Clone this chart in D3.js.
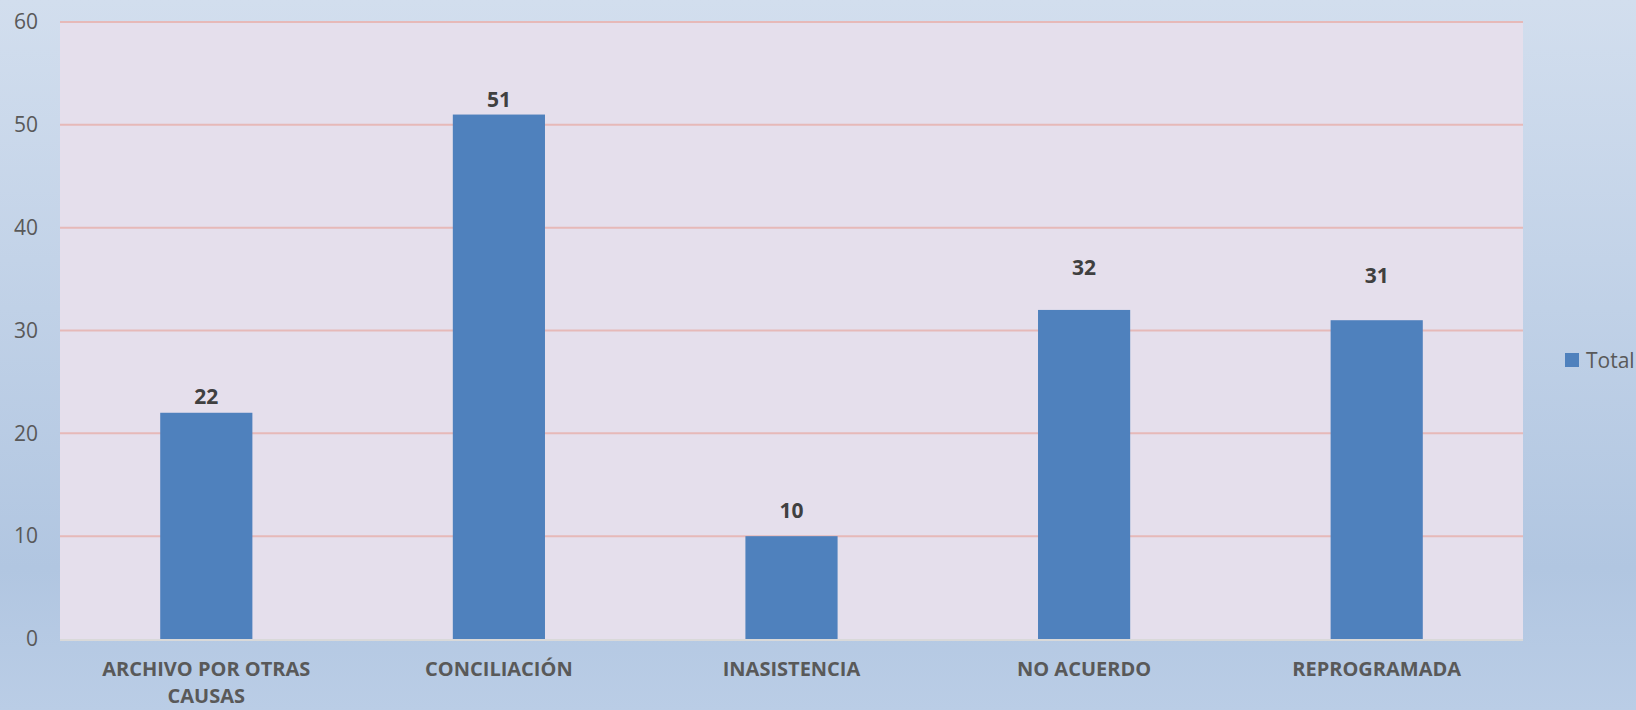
<!DOCTYPE html>
<html>
<head>
<meta charset="utf-8">
<script src="https://cdn.jsdelivr.net/npm/d3@7"></script>
<style>
  html, body { margin: 0; padding: 0; }
  body { width: 1636px; height: 710px; overflow: hidden; }
  text { font-family: "Open Sans", "DejaVu Sans", sans-serif; }
</style>
</head>
<body>
<div id="chart"></div>
<script>
// categories and values
var categories = ["ARCHIVO POR OTRAS CAUSAS", "CONCILIACIÓN", "INASISTENCIA", "NO ACUERDO", "REPROGRAMADA"];
var totals = [22, 51, 10, 32, 31];
// data labels were moved by hand in the original, so keep where they sit (in data units)
var labelAt = [22.85, 51.7, 11.8, 35.4, 34.6];
var yTicks = [0, 10, 20, 30, 40, 50, 60];
var seriesName = "Total";

var width = 1636, height = 710;
var margin = { left: 60, right: 113, top: 22, bottom: 71 };

var svg = d3.select("#chart").append("svg")
    .attr("width", width)
    .attr("height", height);

// background gradient
var grad = svg.append("defs").append("linearGradient")
    .attr("id", "bg")
    .attr("x1", 0).attr("y1", 0).attr("x2", 0).attr("y2", 1);
grad.append("stop").attr("offset", "0%").attr("stop-color", "#d2deee");
grad.append("stop").attr("offset", "80%").attr("stop-color", "#b1c6e1");
grad.append("stop").attr("offset", "100%").attr("stop-color", "#bacde6");

svg.append("rect")
    .attr("width", width).attr("height", height)
    .attr("fill", "url(#bg)");

var x = d3.scaleBand()
    .domain(categories)
    .range([margin.left, width - margin.right])
    .paddingInner(0.685)
    .paddingOuter(0.3425);

var y = d3.scaleLinear()
    .domain([0, 60])
    .range([height - margin.bottom, margin.top]);

// plot area
svg.append("rect")
    .attr("x", margin.left)
    .attr("y", margin.top)
    .attr("width", width - margin.left - margin.right)
    .attr("height", height - margin.top - margin.bottom)
    .attr("fill", "#e5dfec");

// gridlines
svg.append("g").selectAll("line")
    .data(yTicks.filter(function(d){ return d > 0; }))
    .enter().append("line")
    .attr("x1", margin.left)
    .attr("x2", width - margin.right)
    .attr("y1", function(d){ return y(d); })
    .attr("y2", function(d){ return y(d); })
    .style("stroke", "#e6b9b8")
    .style("stroke-width", 2);

// y axis labels
var yAxis = svg.append("g")
    .attr("transform", "translate(" + (margin.left - 22) + ",0)")
    .call(d3.axisLeft(y).tickValues(yTicks).tickSize(0).tickPadding(0));
yAxis.select(".domain").remove();
yAxis.selectAll("text")
    .style("font-size", "21px")
    .style("fill", "#595959");

// bars
svg.append("g").selectAll("rect")
    .data(totals)
    .enter().append("rect")
    .attr("x", function(d, i){ return x(categories[i]); })
    .attr("y", function(d){ return y(d); })
    .attr("width", x.bandwidth())
    .attr("height", function(d){ return y(0) - y(d); })
    .attr("fill", "#4f81bd");

// baseline
svg.append("line")
    .attr("x1", margin.left)
    .attr("x2", width - margin.right)
    .attr("y1", y(0) + 1)
    .attr("y2", y(0) + 1)
    .style("stroke", "#d9d9d9")
    .style("stroke-width", 2);

// data labels
svg.append("g").selectAll("text")
    .data(totals)
    .enter().append("text")
    .attr("x", function(d, i){ return x(categories[i]) + x.bandwidth() / 2; })
    .attr("y", function(d, i){ return y(labelAt[i]); })
    .attr("text-anchor", "middle")
    .style("font-size", "21px")
    .style("font-weight", "bold")
    .style("fill", "#404040")
    .text(function(d){ return d; });

// category labels, wrapped like the original
var wrapped = { "ARCHIVO POR OTRAS CAUSAS": ["ARCHIVO POR OTRAS", "CAUSAS"] };
var catLabels = svg.append("g").selectAll("text")
    .data(categories)
    .enter().append("text")
    .attr("x", function(d){ return x(d) + x.bandwidth() / 2; })
    .attr("y", y(0) + 37)
    .attr("text-anchor", "middle")
    .style("font-size", "20px")
    .style("font-weight", "bold")
    .style("fill", "#595959");
catLabels.each(function(d){
    var lines = wrapped[d] || [d];
    var t = d3.select(this);
    lines.forEach(function(line, i){
        t.append("tspan")
            .attr("x", t.attr("x"))
            .attr("dy", i === 0 ? 0 : 27)
            .text(line);
    });
});

// legend
var legend = svg.append("g").attr("transform", "translate(1565,353)");
legend.append("rect")
    .attr("width", 14).attr("height", 14)
    .attr("fill", "#4f81bd");
legend.append("text")
    .attr("x", 21).attr("y", 15)
    .style("font-size", "21px")
    .style("fill", "#595959")
    .text(seriesName);
</script>
</body>
</html>
